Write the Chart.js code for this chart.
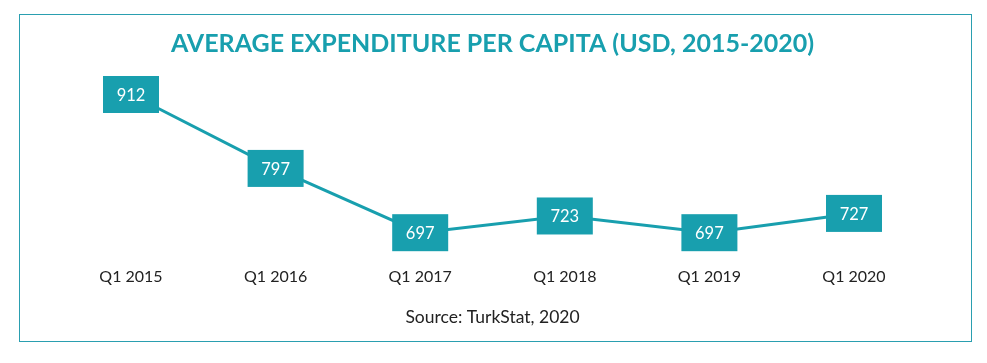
<!DOCTYPE html>
<html>
<head>
<meta charset="utf-8">
<script src="https://cdn.jsdelivr.net/npm/chart.js@4.4.0/dist/chart.umd.min.js"></script>
<style>
  html, body { margin: 0; padding: 0; background: #fff; }
  #frame { position: absolute; left: 19px; top: 14px; width: 951px; height: 326px; border: 1.5px solid #2a9fb0; }
  #wrap { position: absolute; left: 0; top: 0; width: 987px; height: 363px; }
</style>
</head>
<body>
<div id="frame"></div>
<div id="wrap"><canvas id="expChart" width="987" height="363"></canvas></div>
<script>
// data
const quarters = ["Q1 2015", "Q1 2016", "Q1 2017", "Q1 2018", "Q1 2019", "Q1 2020"]
const spending = [912, 797, 697, 723, 697, 727]
const teal = "#189fae"

// draws the value boxes on top of each point
const valueBoxes = {
    id: "valueBoxes",
    afterDatasetsDraw(chart) {
        const ctx = chart.ctx
        const meta = chart.getDatasetMeta(0)
        ctx.save()
        ctx.font = "16.5px Lato"
        ctx.textAlign = "center"
        ctx.textBaseline = "middle"
        meta.data.forEach((pt, i) => {
            ctx.fillStyle = teal
            ctx.fillRect(pt.x - 28, pt.y - 18.5, 56, 37)
            ctx.fillStyle = "#ffffff"
            ctx.fillText(String(spending[i]), pt.x, pt.y + 1)
        })
        ctx.restore()
    },
}

document.addEventListener("DOMContentLoaded", () => {
    new Chart(document.getElementById("expChart"), {
        type: "line",
        data: {
            labels: quarters,
            datasets: [
                {
                    data: spending,
                    borderColor: teal,
                    borderWidth: 3,
                    pointRadius: 0,
                    tension: 0,
                    clip: false,
                },
            ],
        },
        options: {
            responsive: false,
            animation: false,
            layout: {
                padding: { left: 131, right: 133, top: 0, bottom: 0 },
            },
            plugins: {
                legend: { display: false },
                tooltip: { enabled: false },
                title: {
                    display: true,
                    text: "AVERAGE EXPENDITURE PER CAPITA (USD, 2015-2020)",
                    color: teal,
                    font: { family: "Lato", size: 25, weight: "bold" },
                    padding: { top: 28.5, bottom: 36 },
                },
                subtitle: {
                    display: true,
                    position: "bottom",
                    text: "Source: TurkStat, 2020",
                    color: "#222222",
                    font: { family: "Lato", size: 17.5, weight: "normal" },
                    padding: { top: 19.9, bottom: 35.5 },
                },
            },
            scales: {
                x: {
                    offset: false,
                    grid: { display: false, drawTicks: false },
                    border: { display: false },
                    ticks: {
                        color: "#222222",
                        font: { family: "Lato", size: 16 },
                        padding: 0,
                        maxRotation: 0,
                    },
                },
                y: {
                    display: false,
                    min: 643,
                    max: 912,
                },
            },
        },
        plugins: [valueBoxes],
    })
})
</script>
</body>
</html>
